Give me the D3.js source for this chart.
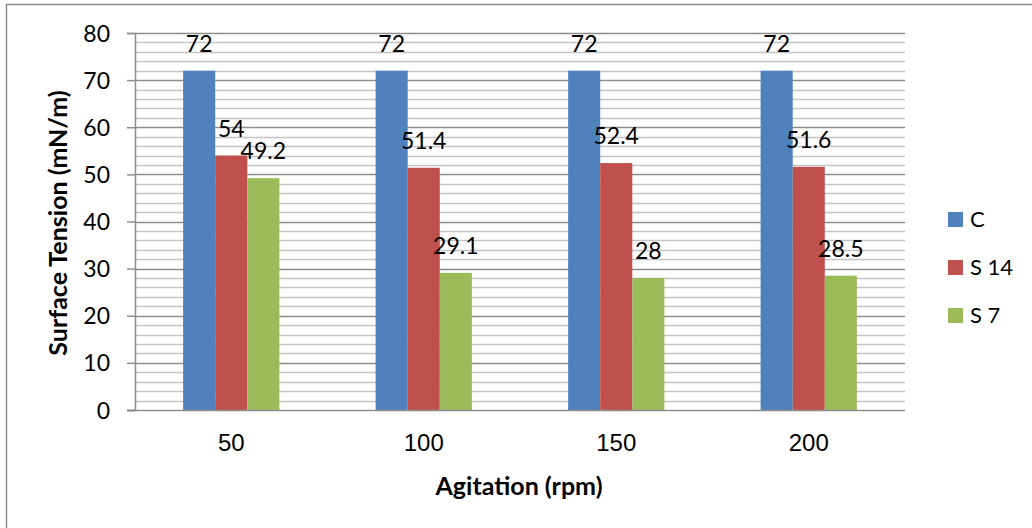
<!DOCTYPE html>
<html>
<head>
  <meta charset="UTF-8">
  <title>Surface Tension vs Agitation</title>
  <script src="https://d3js.org/d3.v7.min.js"></script>
  <style>
    body { margin: 0; background: #fff; }
    svg { display: block; }
    .tick-y { font-family: Lato, "Open Sans", sans-serif; font-size: 23px; fill: #000; }
    .tick-x { font-family: "Liberation Sans", Arial, sans-serif; font-size: 24px; fill: #000; }
    .label { font-family: Lato, "Open Sans", sans-serif; font-size: 23px; fill: #000; text-anchor: middle; }
    .title { font-family: Lato, "Open Sans", sans-serif; font-size: 25px; font-weight: bold; fill: #000; text-anchor: middle; }
    .legend { font-family: Lato, "Open Sans", sans-serif; font-size: 22px; fill: #000; }
  </style>
</head>
<body>
  <svg width="1032" height="528"></svg>

  <script>
    // values
    const agitation = ["50", "100", "150", "200"];
    const seriesNames = ["C", "S 14", "S 7"];
    const valC = [72, 72, 72, 72];
    const valS14 = [54, 51.4, 52.4, 51.6];
    const valS7 = [49.2, 29.1, 28, 28.5];
    const yTicks = [0, 10, 20, 30, 40, 50, 60, 70, 80];
    const colors = ["#4f81bd", "#c0504d", "#9bbb59"];

    const seriesVals = [valC, valS14, valS7];
    const rows = agitation.map((a, i) => ({
      cat: a,
      vals: seriesNames.map((s, j) => ({ name: s, val: seriesVals[j][i], color: colors[j] }))
    }));

    const svg = d3.select("svg");
    const plotL = 135, plotR = 905, plotT = 33, plotB = 410;

    // chart border (only left/top visible in the frame)
    svg.append("rect")
      .attr("x", 6.5).attr("y", 4.5)
      .attr("width", 1040).attr("height", 540)
      .attr("fill", "none").attr("stroke", "#8c8c8c").attr("stroke-width", 1.5);

    const x = d3.scaleBand().domain(agitation).range([plotL, plotR]).paddingInner(0).paddingOuter(0);
    const groupW = x.bandwidth() * 0.5;
    const x1 = d3.scaleBand().domain(seriesNames).range([0, groupW]);
    const y = d3.scaleLinear().domain([0, 80]).range([plotB, plotT]);

    // minor gridlines every 2
    const minor = d3.range(2, 81, 2).filter(v => v % 10 !== 0);
    svg.append("g").selectAll("line")
      .data(minor).enter().append("line")
      .attr("x1", plotL).attr("x2", plotR)
      .attr("y1", d => Math.round(y(d)) + 0.5).attr("y2", d => Math.round(y(d)) + 0.5)
      .attr("stroke", "#c4c4c4").attr("stroke-width", 1.5);

    // major gridlines
    svg.append("g").selectAll("line")
      .data(yTicks.filter(v => v > 0)).enter().append("line")
      .attr("x1", plotL).attr("x2", plotR)
      .attr("y1", d => Math.round(y(d)) + 0.5).attr("y2", d => Math.round(y(d)) + 0.5)
      .attr("stroke", "#8e8e8e").attr("stroke-width", 1.5);

    // y axis
    const yAxis = svg.append("g")
      .attr("transform", `translate(${plotL},0)`)
      .call(d3.axisLeft(y).tickValues(yTicks).tickSize(8).tickPadding(17));
    yAxis.select(".domain").attr("stroke", "#8e8e8e").attr("stroke-width", 1.5);
    yAxis.selectAll(".tick line").attr("stroke", "#8e8e8e").attr("stroke-width", 1.5);
    yAxis.selectAll(".tick text").attr("class", "tick-y").attr("dy", "0.35em");
    yAxis.attr("font-family", null).attr("font-size", null);

    // bars
    const groups = svg.append("g").selectAll("g")
      .data(rows).enter().append("g")
      .attr("transform", d => `translate(${x(d.cat) + (x.bandwidth() - groupW) / 2},0)`);

    groups.selectAll("rect")
      .data(d => d.vals).enter().append("rect")
      .attr("x", d => x1(d.name))
      .attr("y", d => y(d.val))
      .attr("width", x1.bandwidth())
      .attr("height", d => y(0) - y(d.val))
      .attr("fill", d => d.color);

    groups.selectAll(".label")
      .data(d => d.vals).enter().append("text")
      .attr("class", "label")
      .attr("x", d => x1(d.name) + x1.bandwidth() / 2)
      .attr("y", d => y(d.val) - 19)
      .text(d => d.val);

    // x axis line
    const xAxis = svg.append("g")
      .attr("transform", `translate(0,${plotB})`)
      .call(d3.axisBottom(x).tickSize(0).tickPadding(24));
    xAxis.select(".domain").attr("d", `M${plotL - 8},0.5H${plotR}`).attr("stroke", "#8e8e8e").attr("stroke-width", 1.5);
    xAxis.selectAll(".tick text").attr("class", "tick-x");
    xAxis.attr("font-family", null).attr("font-size", null);

    // axis titles
    svg.append("text").attr("class", "title")
      .attr("x", 519).attr("y", 495)
      .text("Agitation (rpm)");
    svg.append("text").attr("class", "title")
      .attr("transform", "translate(67,223) rotate(-90)")
      .text("Surface Tension (mN/m)");

    // legend
    const legend = svg.append("g").selectAll("g")
      .data(seriesNames).enter().append("g")
      .attr("transform", (d, i) => `translate(948,${212 + i * 48})`);
    legend.append("rect")
      .attr("width", 15).attr("height", 15)
      .attr("fill", (d, i) => colors[i]);
    legend.append("text").attr("class", "legend")
      .attr("x", 22).attr("y", 15)
      .text(d => d);
  </script>
</body>
</html>
